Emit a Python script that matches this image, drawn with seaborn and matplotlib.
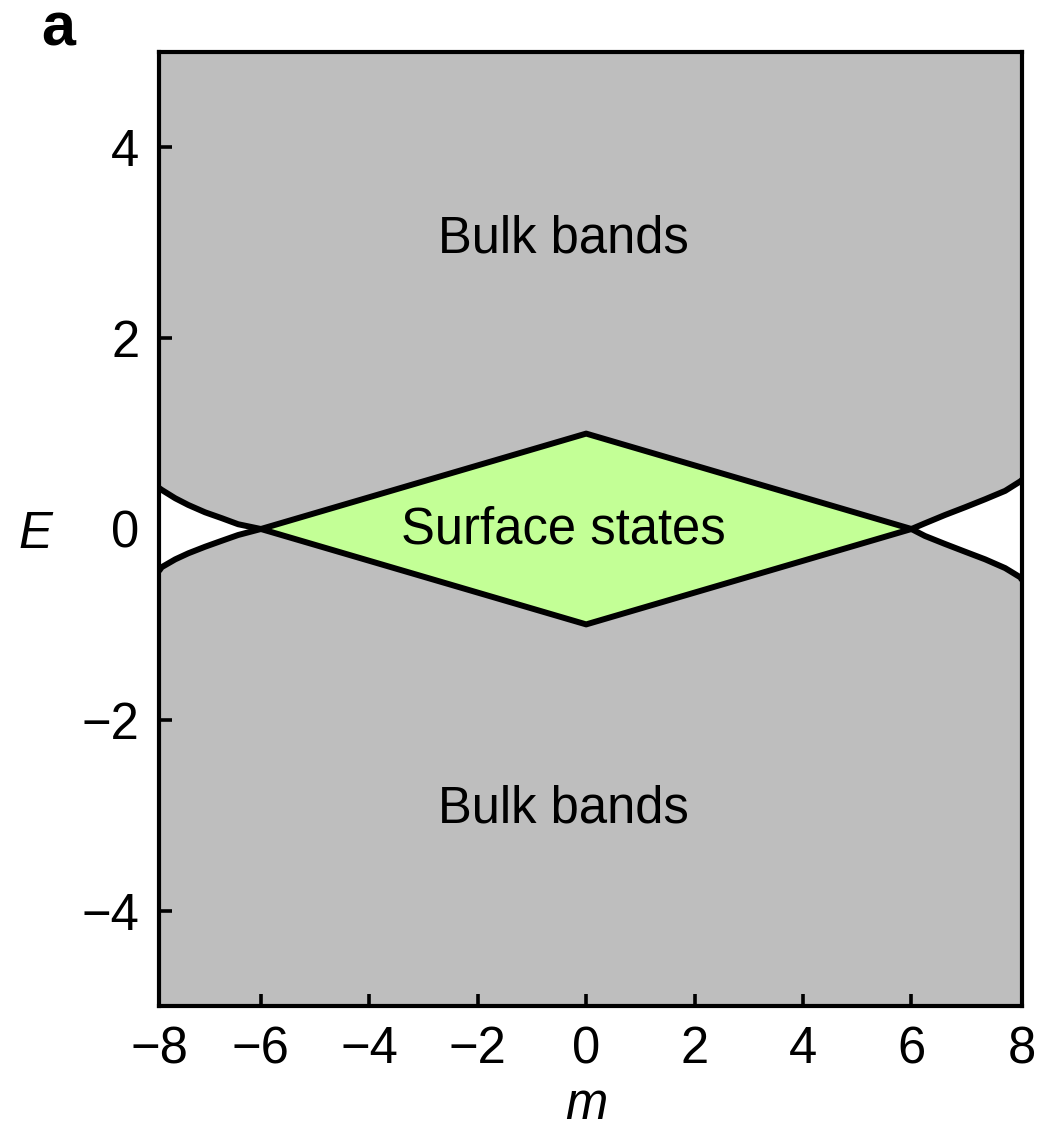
import matplotlib
matplotlib.use("Agg")
import matplotlib.pyplot as plt
import seaborn as sns
import pandas as pd

# ---- data ----
m_left = [-7.88, -7.83, -7.58, -7.34, -7.03, -6.72, -6.42, -6.0]
E_left_upper = [0.43, 0.41, 0.322, 0.252, 0.175, 0.113, 0.05, 0.0]
E_left_lower = [-0.44, -0.40, -0.318, -0.255, -0.186, -0.123, -0.063, 0.0]

m_right = [6.0, 6.25, 6.62, 6.99, 7.36, 7.73, 8.01, 8.04]
E_right_upper = [0.0, 0.06, 0.147, 0.228, 0.312, 0.40, 0.50, 0.515]
E_right_lower = [0.0, -0.073, -0.157, -0.238, -0.318, -0.41, -0.507, -0.535]

m_diamond = [-6.0, 0.0, 6.0]
E_diamond_upper = [0.0, 1.0, 0.0]
E_diamond_lower = [0.0, -1.0, 0.0]

x_limits = [-7.88, 8.04]
y_limits = [-5, 5]
x_tick_values = [-7.88, -6, -4, -2, 0, 2, 4, 6, 8.04]
x_tick_labels = ["\u22128", "\u22126", "\u22124", "\u22122", "0", "2", "4", "6", "8"]
y_tick_values = [-4, -2, 0, 2, 4]
y_tick_labels = ["\u22124", "\u22122", "0", "2", "4"]

gray = "#BEBEBE"
green = "#C3FF96"

sns.set_theme(style="white")
plt.rcParams["font.family"] = ["Liberation Sans", "DejaVu Sans"]
plt.rcParams["text.color"] = "black"
plt.rcParams["axes.labelcolor"] = "black"
FS = 36.5

fig = plt.figure(figsize=(10.42, 11.31), dpi=100)
ax = fig.add_axes([159 / 1042, 1 - 1006 / 1131, (1022 - 159) / 1042, (1006 - 52) / 1131])
ax.set_facecolor(gray)

# fills
ax.fill_between(m_left, E_left_upper, E_left_lower, color="white", lw=0, zorder=1)
ax.fill_between(m_right, E_right_upper, E_right_lower, color="white", lw=0, zorder=1)
ax.fill_between(m_diamond, E_diamond_upper, E_diamond_lower, color=green, lw=0, zorder=1)

# black boundary lines (two crossing curves)
line_a = pd.DataFrame({
    "m": m_left + m_diamond[1:] + m_right[1:],
    "E": E_left_upper + E_diamond_lower[1:] + E_right_upper[1:],
})
line_b = pd.DataFrame({
    "m": m_left + m_diamond[1:] + m_right[1:],
    "E": E_left_lower + E_diamond_upper[1:] + E_right_lower[1:],
})
for df in (line_a, line_b):
    sns.lineplot(data=df, x="m", y="E", sort=False, estimator=None,
                 color="black", ax=ax, zorder=3)
for ln in ax.get_lines():
    ln.set_linewidth(4.3)
    ln.set_solid_joinstyle("round")
    ln.set_solid_capstyle("butt")

ax.set_xlim(*x_limits)
ax.set_ylim(*y_limits)
ax.set_xticks(x_tick_values)
ax.set_xticklabels(x_tick_labels)
ax.set_yticks(y_tick_values)
ax.set_yticklabels(y_tick_labels)
ax.tick_params(direction="in", length=9, width=2.6, labelsize=FS, pad=14,
               colors="black", bottom=True, left=True, top=False, right=False)
for s in ax.spines.values():
    s.set_visible(True)
    s.set_linewidth(3.0)
    s.set_color("black")
    s.set_zorder(5)

ax.set_xlabel("m", fontsize=FS, style="italic", color="black")
ax.set_ylabel("E", fontsize=FS, style="italic", rotation=0, color="black")
ax.xaxis.label.set_va("baseline")
ax.yaxis.label.set_va("baseline")
ax.yaxis.label.set_ha("center")
ax.xaxis.set_label_coords((586 - 159) / 863, (1006 - 1119) / 954)
ax.yaxis.set_label_coords((35 - 159) / 863, (1006 - 548) / 954)

ax.text(-0.42, 2.90, "Bulk bands", fontsize=FS, ha="center", va="baseline",
        color="black", zorder=4)
ax.text(-0.42, -3.08, "Bulk bands", fontsize=FS, ha="center", va="baseline",
        color="black", zorder=4)
ax.text(-0.42, -0.15, "Surface states", fontsize=FS, ha="center", va="baseline",
        color="black", zorder=4)

fig.text(58 / 1042, 1 - 45 / 1131, "a", fontsize=44, fontweight="bold",
         ha="center", va="baseline", color="black")

fig.savefig("out.png", dpi=100)
